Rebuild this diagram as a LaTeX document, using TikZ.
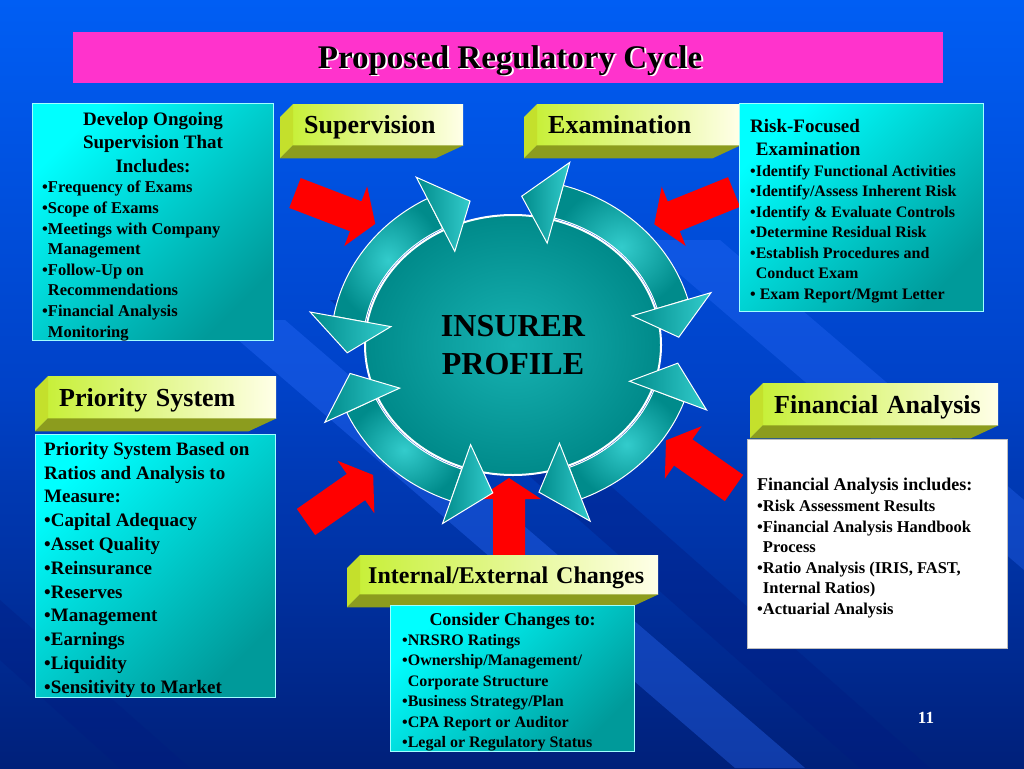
\documentclass[tikz,border=0pt]{standalone}
\usepackage{fontspec}
\setmainfont{Liberation Serif}
\usetikzlibrary{positioning,calc,shapes.geometric}

\definecolor{bgtop}{HTML}{0066FF}
\definecolor{bghigh}{HTML}{005EF4}
\definecolor{bgmid}{HTML}{0042C8}
\definecolor{bglow}{HTML}{00207A}
\definecolor{bgbot}{HTML}{000512}
\definecolor{titlepink}{HTML}{FF33CC}
\definecolor{labelleft}{HTML}{C8F03A}
\definecolor{labelright}{HTML}{FFFFE8}
\definecolor{bevelleft}{HTML}{C4E02C}
\definecolor{bevelolive}{HTML}{8C9C1E}
\definecolor{boxhi}{HTML}{00FFFF}
\definecolor{boxlo}{HTML}{009A9A}
\definecolor{cyanedge}{HTML}{A0FFFF}
\definecolor{ringhi}{HTML}{33CCCC}
\definecolor{ringlo}{HTML}{008B8B}
\definecolor{corehi}{HTML}{17B2B2}
\definecolor{corelo}{HTML}{008A8A}
\definecolor{stripelight}{HTML}{3070FF}
\definecolor{stripedark}{HTML}{001A80}

\pgfdeclareverticalshading{slidebg}{100bp}{color(0bp)=(bgbot); color(25bp)=(bglow); color(50bp)=(bgmid); color(75bp)=(bghigh); color(100bp)=(bgtop)}

\tikzset{
  cyanbox/.style={draw=cyanedge, line width=1, top color=boxhi, bottom color=boxlo, shading angle=45,
    inner sep=0, anchor=north west},
  whitebox/.style={draw=gray!50, line width=1, fill=white, inner sep=0, anchor=north west},
  labelfront/.style={left color=labelleft, right color=labelright, inner xsep=11, inner ysep=0,
    text depth=0pt, anchor=north west, align=left, font=\fontsize{26}{30}\selectfont\bfseries},
  bevelside/.style={fill=bevelleft},
  bevelbase/.style={fill=bevelolive},
  boxhead/.style={inner sep=0, align=center, font=\fontsize{19}{23.5}\selectfont\bfseries},
  boxlist/.style={inner sep=0, align=left, font=\fontsize{16.5}{20.6}\selectfont\bfseries},
  ringband/.style={draw=white, line width=1, inner color=ringhi, outer color=ringlo},
  ringhead/.style={draw=white, line width=1, left color=ringlo, right color=ringhi},
  inarrow/.style={fill=red},
}

% side and base faces of a label box
\newcommand{\bevel}[1]{%
  \fill[bevelside] (#1.north west) -- ++(-13,13) -- ($(#1.south west)+(-13,13)$) -- (#1.south west) -- cycle;
  \fill[bevelbase] (#1.south west) -- (#1.south east) -- ++(-28,13) -- ($(#1.south west)+(-13,13)$) -- cycle;}

% one part of the cycle ring, with a head at each end
\newcommand{\ringseg}[2]{%
  \shade[ringband] ($(profile.center)+(#1:182 and 166)$) arc[start angle=#1, end angle=#2, x radius=182, y radius=166]
    -- ($(profile.center)+(#2:150 and 132)$) arc[start angle=#2, end angle=#1, x radius=150, y radius=132] -- cycle;
  \shade[ringhead] ($(profile.center)+(#2:124 and 106)$) -- ($(profile.center)+(#2:206 and 190)$)
    -- ($(profile.center)+(#2+13:166 and 149)$) -- cycle;
  \shade[ringhead] ($(profile.center)+(#1:124 and 106)$) -- ($(profile.center)+(#1:206 and 190)$)
    -- ($(profile.center)+(#1-13:166 and 149)$) -- cycle;}

% red block arrow: tail, angle, length
\newcommand{\inarrow}[3]{%
  \begin{scope}[shift={#1}, rotate=#2]
    \fill[inarrow] (0,-16) -- (#3-21,-16) -- (#3-21,-32) -- (#3,0) -- (#3-21,32) -- (#3-21,16) -- (0,16) -- cycle;
  \end{scope}}

\newcommand{\contind}{\hspace*{0.35em}}

\begin{document}
\begin{tikzpicture}[x=1pt, y=-1pt]
\useasboundingbox (0,0) rectangle (1024,768);
\shade[shading=slidebg] (0,0) rectangle (1024,768);

% diagonal bands
\begin{scope}
\clip (0,0) rectangle (1024,768);
\fill[stripelight, opacity=0.35] (215,320) -- (285,320) -- (805,768) -- (735,768) -- cycle;
\fill[stripedark, opacity=0.35] (330,300) -- (400,300) -- (930,768) -- (860,768) -- cycle;
\fill[stripelight, opacity=0.3] (640,240) -- (720,240) -- (1024,500) -- (1024,570) -- cycle;
\fill[stripedark, opacity=0.3] (0,600) -- (0,660) -- (120,768) -- (190,768) -- cycle;
\end{scope}

% red arrows
\inarrow{(295,193)}{-21}{86}
\inarrow{(734,192)}{-158}{86}
\inarrow{(306,522)}{35}{82}
\inarrow{(509,555)}{90}{77}
\inarrow{(734,488)}{145}{83}

% insurer profile and cycle
\node[ellipse, minimum width=296, minimum height=260, inner sep=0, draw=white, line width=2,
  inner color=corehi, outer color=corelo, align=center,
  font=\fontsize{32}{38}\selectfont\bfseries] (profile) at (513,345) {INSURER\\PROFILE};
\ringseg{-170}{-118}
\ringseg{-74}{-16}
\ringseg{20}{68}
\ringseg{110}{156}

% label boxes
\node[labelfront, minimum height=41, text width=148] (supervision) at (293,104) {Supervision};
\bevel{supervision}
\node[labelfront, minimum height=41, text width=181] (examination) at (537,104) {Examination};
\bevel{examination}
\node[labelfront, minimum height=42, text width=206] (priority) at (48,376) {Priority System};
\bevel{priority}
\node[labelfront, minimum height=39, text width=282, inner xsep=8,
  font=\fontsize{24}{28}\selectfont\bfseries] (changes) at (360,555) {Internal/External Changes};
\bevel{changes}
\node[labelfront, minimum height=42, text width=213] (financial) at (763,383) {Financial Analysis};
\bevel{financial}

% text boxes
\node[cyanbox, minimum width=241, minimum height=237] (devbox) at (32,103) {};
\node[boxhead, below=9pt of devbox.north] (devhead) {Develop Ongoing\\Supervision That\\Includes:};
\node[boxlist, below right=78pt and 10pt of devbox.north west] (devlist)
  {\textbullet Frequency of Exams\\\textbullet Scope of Exams\\\textbullet Meetings with Company\\
   \contind Management\\\textbullet Follow-Up on\\\contind Recommendations\\
   \textbullet Financial Analysis\\\contind Monitoring};

\node[cyanbox, minimum width=244, minimum height=208] (riskbox) at (739,103) {};
\node[boxhead, align=left, font=\fontsize{19}{23}\selectfont\bfseries,
  below right=16pt and 11pt of riskbox.north west] (riskhead) {Risk-Focused\\\hspace*{0.3em}Examination};
\node[boxlist, font=\fontsize{16}{20.5}\selectfont\bfseries,
  below right=62pt and 11pt of riskbox.north west] (risklist)
  {\textbullet Identify Functional Activities\\\textbullet Identify/Assess Inherent Risk\\
   \textbullet Identify \& Evaluate Controls\\\textbullet Determine Residual Risk\\
   \textbullet Establish Procedures and\\\contind Conduct Exam\\\textbullet\ Exam Report/Mgmt Letter};

\node[cyanbox, minimum width=240, minimum height=263] (prbox) at (35,434) {};
\node[boxlist, font=\fontsize{19}{23.8}\selectfont\bfseries,
  below right=8pt and 9pt of prbox.north west] (prlist)
  {Priority System Based on\\Ratios and Analysis to\\Measure:\\\textbullet Capital Adequacy\\
   \textbullet Asset Quality\\\textbullet Reinsurance\\\textbullet Reserves\\\textbullet Management\\
   \textbullet Earnings\\\textbullet Liquidity\\\textbullet Sensitivity to Market};

\node[cyanbox, minimum width=244, minimum height=146] (chgbox) at (390,605) {};
\node[boxhead, font=\fontsize{18}{22}\selectfont\bfseries, below=8pt of chgbox.north] (chghead)
  {Consider Changes to:};
\node[boxlist, font=\fontsize{16}{20.5}\selectfont\bfseries,
  below right=29pt and 12pt of chgbox.north west] (chglist)
  {\textbullet NRSRO Ratings\\\textbullet Ownership/Management/\\\contind Corporate Structure\\
   \textbullet Business Strategy/Plan\\\textbullet CPA Report or Auditor\\
   \textbullet Legal or Regulatory Status};

\node[whitebox, minimum width=260, minimum height=209] (fabox) at (747,439) {};
\node[boxhead, align=left, font=\fontsize{18}{22}\selectfont\bfseries,
  below right=39pt and 10pt of fabox.north west] (fahead) {Financial Analysis includes:};
\node[boxlist, font=\fontsize{16.5}{20.5}\selectfont\bfseries,
  below right=61pt and 10pt of fabox.north west] (falist)
  {\textbullet Risk Assessment Results\\\textbullet Financial Analysis Handbook\\\contind Process\\
   \textbullet Ratio Analysis (IRIS, FAST,\\\contind Internal Ratios)\\\textbullet Actuarial Analysis};

% title
\node[fill=titlepink, minimum width=870, minimum height=51, inner sep=0, anchor=north west] (titlebar) at (73,32) {};
\node[white, anchor=base, font=\fontsize{33}{38}\selectfont\bfseries] (titleshadow) at (512,70) {Proposed Regulatory Cycle};
\node[anchor=base, font=\fontsize{33}{38}\selectfont\bfseries] (title) at (510,68) {Proposed Regulatory Cycle};

\node[white, anchor=base, font=\fontsize{17}{20}\selectfont\bfseries] (pageno) at (926,723) {11};
\end{tikzpicture}
\end{document}
